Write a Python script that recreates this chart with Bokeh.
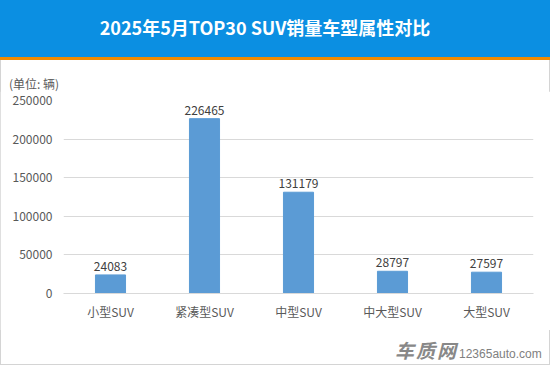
from bokeh.plotting import figure
from bokeh.models import ColumnDataSource, Div, FactorRange, Range1d, NumeralTickFormatter, FixedTicker
from bokeh.layouts import column
from bokeh.embed import file_html
from bokeh.resources import INLINE
from bokeh.core.properties import value

title_text = "2025年5月TOP30 SUV销量车型属性对比"
unit_text = "(单位: 辆)"
categories = ["小型SUV", "紧凑型SUV", "中型SUV", "中大型SUV", "大型SUV"]
sales = [24083, 226465, 131179, 28797, 27597]
y_ticks = [0, 50000, 100000, 150000, 200000, 250000]
logo_text = "车质网"
site_text = "12365auto.com"

FONT = "Noto Sans CJK SC"
W = 550
SIDE = "1px solid #d4d4d4"

head = Div(text=title_text, width=W, height=57, margin=0, styles={
    "background-color": "#0b8fe2", "color": "white", "font-weight": "bold",
    "font-size": "18px", "font-family": FONT, "text-align": "center",
    "padding-top": "15px", "padding-right": "20px", "box-sizing": "border-box",
})
stripe = Div(text="", width=W, height=3, margin=0, styles={"background-color": "#f08a00"})
unit = Div(text=unit_text, width=W, height=31, margin=0, styles={
    "font-size": "12px", "font-family": FONT, "color": "#595959",
    "padding-top": "15px", "padding-left": "8px", "box-sizing": "border-box",
    "border-left": SIDE, "border-right": SIDE,
})

src = ColumnDataSource(dict(cat=categories, val=sales, lab=[str(v) for v in sales]))

p = figure(width=W, height=239, x_range=FactorRange(*categories), y_range=Range1d(0, 250000),
           output_backend="svg", toolbar_location=None, margin=0,
           min_border_left=63, min_border_right=17, min_border_top=9, min_border_bottom=37)
p.outline_line_color = None
p.vbar(x="cat", top="val", width=0.32, color="#5b9bd5", source=src)
p.text(x="cat", y="val", text="lab", source=src, y_offset=-4, text_align="center",
       text_baseline="bottom", text_font=value(FONT), text_font_size="12px", text_color="#404040")

p.xgrid.grid_line_color = None
p.ygrid.grid_line_color = "#d9d9d9"
p.ygrid.ticker = FixedTicker(ticks=y_ticks)
p.yaxis.ticker = FixedTicker(ticks=y_ticks)
p.yaxis.formatter = NumeralTickFormatter(format="0")
for ax in (p.xaxis, p.yaxis):
    ax.major_tick_line_color = None
    ax.minor_tick_line_color = None
    ax.major_label_text_font = FONT
    ax.major_label_text_font_size = "12px"
    ax.major_label_text_color = "#595959"
p.yaxis.axis_line_color = None
p.yaxis.major_label_standoff = 5
p.xaxis.axis_line_color = "#d9d9d9"
p.xaxis.major_label_standoff = 3

foot_html = (f'<span style="font-size:19px;font-weight:bold;font-style:italic;color:#888888;'
             f'font-family:\'{FONT}\';letter-spacing:2px">{logo_text}</span>'
             f'<span style="font-size:12px;color:#808080;font-family:\'Liberation Sans\';'
             f'margin-left:1px">{site_text}</span>')
foot = Div(text=foot_html, width=W, height=35, margin=0, styles={
    "padding-top": "6px", "padding-left": "394px", "box-sizing": "border-box",
    "border-left": SIDE, "border-right": SIDE, "border-bottom": SIDE,
})

layout = column(head, stripe, unit, p, foot, spacing=0, margin=0,
                styles={"outline": SIDE, "outline-offset": "-1px"})
open("out.html", "w").write(file_html(layout, INLINE))
